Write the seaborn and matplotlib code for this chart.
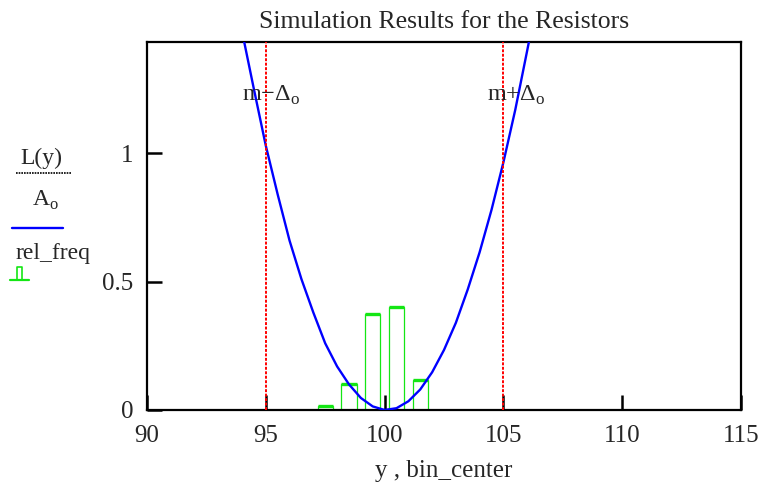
import numpy as np
import pandas as pd
import matplotlib
matplotlib.use('Agg')
import matplotlib.pyplot as plt
import seaborn as sns
from matplotlib.lines import Line2D

# loss curve L(y)/A_o
curve_y = [93.9, 94.5, 95.0, 95.5, 96.0, 96.5, 97.0, 97.5, 98.0, 98.5, 99.0, 99.5,
           100.0, 100.5, 101.0, 101.5, 102.0, 102.5, 103.0, 103.5, 104.0, 104.5,
           105.0, 105.5, 106.0, 106.3]
curve_L = [1.52, 1.25, 1.03, 0.84, 0.66, 0.51, 0.38, 0.26, 0.17, 0.10, 0.047, 0.014,
           0.0, 0.007, 0.034, 0.08, 0.147, 0.234, 0.34, 0.47, 0.615, 0.78,
           0.965, 1.17, 1.40, 1.54]

# histogram of the simulated resistors
bin_center = [97.5, 98.5, 99.5, 100.5, 101.5]
rel_freq = [0.015, 0.10, 0.375, 0.40, 0.118]

# spec limits m - Delta_o, m + Delta_o
limits = [95, 105]
limit_labels = ['m\u2212\u0394$_\\mathregular{o}$', 'm+\u0394$_\\mathregular{o}$']
limit_label_x = [93.98, 104.30]

x_ticks = [90, 95, 100, 105, 110, 115]
y_ticks = [0, 0.5, 1]

sns.set_style('white')
plt.rcParams['font.family'] = ['Liberation Serif', 'DejaVu Serif']
plt.rcParams['mathtext.fontset'] = 'custom'
plt.rcParams['mathtext.rm'] = 'Liberation Serif'

W, H = 765, 487
fig = plt.figure(figsize=(W / 100, H / 100), dpi=100)
ax = fig.add_axes([147 / W, 1 - 410 / H, (741 - 147) / W, (410 - 42) / H])

green = '#14e614'
bar_w = 0.64
ax.bar(bin_center, rel_freq, width=bar_w, fill=False, edgecolor=green, linewidth=0.9, zorder=2)
ax.hlines(rel_freq, np.array(bin_center) - bar_w / 2, np.array(bin_center) + bar_w / 2,
          color=green, linewidth=2.4, zorder=3)

df = pd.DataFrame({'y': curve_y, 'L': curve_L})
sns.lineplot(data=df, x='y', y='L', ax=ax, color='#0000ff', linewidth=1.7, zorder=4)

for xv, lab, lx in zip(limits, limit_labels, limit_label_x):
    ax.axvline(xv, color='#ff0000', linestyle=(0, (1.5, 0.8)), linewidth=1.4, zorder=5)
    ax.text(lx, 1.205, lab, fontsize=17.5, ha='left', va='baseline', zorder=6)

ax.set_xlim(90, 115)
ax.set_ylim(0, 1.434)
ax.set_xticks(x_ticks)
ax.set_yticks(y_ticks)
ax.set_yticklabels(['0', '0.5', '1'])
ax.tick_params(direction='in', length=11, width=1.8, labelsize=18, color='black',
               bottom=True, left=True, top=False, right=False)
ax.tick_params(axis='x', pad=11)
ax.tick_params(axis='y', pad=10)
for s in ax.spines.values():
    s.set_color('black')
    s.set_linewidth(1.6)

ax.set_title('Simulation Results for the Resistors', fontsize=18.5, pad=10)
ax.set_xlabel('y , bin_center', fontsize=18, labelpad=9)
ax.set_ylabel('')

# Mathcad style legend on the left
def fx(px):
    return px / W

def fy(py):
    return 1 - py / H

fig.text(fx(41), fy(158), 'L(y)', fontsize=17, ha='center', va='center')
fig.add_artist(Line2D([fx(16), fx(71)], [fy(173), fy(173)], color='black',
                      linewidth=1.2, linestyle=(0, (1, 0.6))))
fig.text(fx(45), fy(200), 'A$_\\mathregular{o}$', fontsize=17, ha='center', va='center')
fig.add_artist(Line2D([fx(12), fx(63)], [fy(228), fy(228)], color='#0000ff', linewidth=1.7))
fig.text(fx(16), fy(254), 'rel_freq', fontsize=17, ha='left', va='center')
fig.add_artist(Line2D([fx(10), fx(29)], [fy(280), fy(280)], color=green, linewidth=1.6))
fig.add_artist(Line2D([fx(17), fx(17), fx(22), fx(22)], [fy(280), fy(267), fy(267), fy(280)],
                      color=green, linewidth=1.2))

fig.savefig('out.png', dpi=100)
